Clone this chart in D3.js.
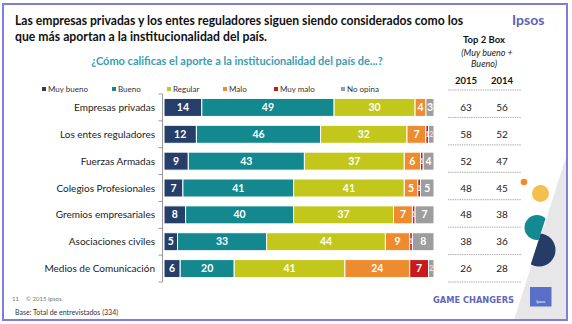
<!DOCTYPE html>
<html>
<head>
<meta charset="utf-8">
<script src="https://cdn.jsdelivr.net/npm/d3@7"></script>
<style>
  body { margin: 0; background: #fff; }
  svg { display: block; font-family: Lato, "Open Sans", sans-serif; }
</style>
</head>
<body>
<div id="chart"></div>
<script>
// Data
const categories = ["Empresas privadas", "Los entes reguladores", "Fuerzas Armadas",
  "Colegios Profesionales", "Gremios empresariales", "Asociaciones civiles", "Medios de Comunicación"];
const seriesNames = ["Muy bueno", "Bueno", "Regular", "Malo", "Muy malo", "No opina"];
const muyBueno = [14, 12, 9, 7, 8, 5, 6];
const bueno    = [49, 46, 43, 41, 40, 33, 20];
const regular  = [30, 32, 37, 41, 37, 44, 41];
const malo     = [4, 7, 6, 5, 7, 9, 24];
const muyMalo  = [0, 1, 1, 1, 1, 1, 7];
const noOpina  = [3, 2, 4, 5, 7, 8, 2];
const top2015 = [63, 58, 52, 48, 48, 38, 26];
const top2014 = [56, 52, 47, 45, 38, 36, 28];
const yearLabels = ["2015", "2014"];

const colors = ["#253f6a", "#13888f", "#c3c71c", "#ee8b2f", "#c8191b", "#9d9d9d"];

const W = 572, H = 324;
const svg = d3.select("#chart").append("svg").attr("width", W).attr("height", H);

// build rows for the stack
const seriesArrays = [muyBueno, bueno, regular, malo, muyMalo, noOpina];
const rows = categories.map((c, i) => {
  const r = { cat: c };
  seriesNames.forEach((s, j) => r[s] = seriesArrays[j][i]);
  return r;
});
const stacked = d3.stack().keys(seriesNames)(rows);

// decorations (background)
svg.append("path")
  .attr("d", "M568,151 L568,320 L514,320 Z")
  .attr("fill", "#e7e7e9");

// frame
svg.append("rect")
  .attr("x", 3).attr("y", 4).attr("width", 564).attr("height", 316)
  .attr("fill", "none").attr("stroke", "#7f7fda").attr("stroke-width", 2);

// title (slightly squeezed to the reference width)
svg.append("text")
  .attr("x", 15).attr("y", 25)
  .attr("font-weight", "bold").attr("font-size", 13).attr("fill", "#111")
  .attr("textLength", 448).attr("lengthAdjust", "spacingAndGlyphs")
  .text("Las empresas privadas y los entes reguladores siguen siendo considerados como los");
svg.append("text")
  .attr("x", 15).attr("y", 41)
  .attr("font-weight", "bold").attr("font-size", 13).attr("fill", "#111")
  .attr("textLength", 252).attr("lengthAdjust", "spacingAndGlyphs")
  .text("que más aportan a la institucionalidad del país.");

svg.append("text")
  .attr("x", 512).attr("y", 25)
  .attr("font-size", 14).attr("font-weight", "bold").attr("fill", "#5f62b8")
  .text("Ipsos");

// subtitle
svg.append("text")
  .attr("x", 237).attr("y", 65).attr("text-anchor", "middle")
  .attr("font-size", 11).attr("font-weight", "bold").attr("fill", "#3a9db3")
  .text("¿Cómo calificas el aporte a la institucionalidad del país de...?");

// legend
const legendX = [42, 112, 167, 223, 274, 341];
const legend = svg.append("g");
seriesNames.forEach((s, i) => {
  legend.append("rect")
    .attr("x", legendX[i]).attr("y", 87).attr("width", 4).attr("height", 4)
    .attr("fill", colors[i]);
  legend.append("text")
    .attr("x", legendX[i] + 6).attr("y", 92)
    .attr("font-size", 8).attr("fill", "#333")
    .text(s);
});

// scales
const x = d3.scaleLinear().domain([0, 100]).range([164, 434]);
const y = d3.scaleBand().domain(categories).range([94, 282])
  .paddingInner(0.33).paddingOuter(0.165);

// axis line with ticks at band edges
const axisX = 162.5;
svg.append("line")
  .attr("x1", axisX).attr("x2", axisX).attr("y1", 94).attr("y2", 282)
  .attr("stroke", "#999").attr("stroke-width", 1);
const edges = categories.map(c => y(c) - y.step() * y.paddingInner() / 2)
  .concat([282]);
svg.append("g").selectAll("line").data(edges).join("line")
  .attr("x1", axisX - 4).attr("x2", axisX)
  .attr("y1", d => d).attr("y2", d => d)
  .attr("stroke", "#999");

// category labels
svg.append("g").selectAll("text").data(categories).join("text")
  .attr("x", 155).attr("y", d => y(d) + y.bandwidth() / 2 + 3.5)
  .attr("text-anchor", "end").attr("font-size", 10).attr("fill", "#222")
  .text(d => d);

// bars
const layers = svg.append("g").selectAll("g").data(stacked).join("g")
  .attr("fill", (d, i) => colors[i]);
layers.selectAll("rect").data(d => d).join("rect")
  .attr("x", d => x(d[0]))
  .attr("y", d => y(d.data.cat))
  .attr("width", d => Math.max(0, x(d[1]) - x(d[0])))
  .attr("height", y.bandwidth())
  .attr("stroke", "#fff").attr("stroke-width", 1);

// value labels
layers.selectAll("text").data(d => d.filter(p => p[1] - p[0] >= 1)).join("text")
  .attr("x", d => (x(d[0]) + x(d[1])) / 2)
  .attr("y", d => y(d.data.cat) + y.bandwidth() / 2 + (d[1] - d[0] <= 2 ? 2.5 : 3.6))
  .attr("text-anchor", "middle")
  .attr("font-size", d => d[1] - d[0] <= 2 ? 7 : 10.5)
  .attr("font-weight", "bold")
  .attr("fill", d => d[1] - d[0] <= 2 ? "#f4dede" : "#fff")
  .text(d => d[1] - d[0]);

// Top 2 box table
const colX = [466, 502];
svg.append("text").attr("x", 484).attr("y", 43).attr("text-anchor", "middle")
  .attr("font-size", 9.5).attr("font-weight", "bold").attr("fill", "#111").text("Top 2 Box");
svg.append("text").attr("x", 487).attr("y", 56).attr("text-anchor", "middle")
  .attr("font-size", 9).attr("font-style", "italic").attr("fill", "#222").text("(Muy bueno +");
svg.append("text").attr("x", 484).attr("y", 67).attr("text-anchor", "middle")
  .attr("font-size", 9).attr("font-style", "italic").attr("fill", "#222").text("Bueno)");
yearLabels.forEach((yl, i) => {
  svg.append("text").attr("x", colX[i]).attr("y", 84).attr("text-anchor", "middle")
    .attr("font-size", 9.5).attr("font-weight", "bold").attr("fill", "#111").text(yl);
});

const ty = d3.scaleBand().domain(categories).range([90, 282]);
svg.append("g").selectAll("line").data([90].concat(categories.map(c => ty(c) + ty.bandwidth())))
  .join("line")
  .attr("x1", 448).attr("x2", 521).attr("y1", d => d).attr("y2", d => d)
  .attr("stroke", "#999").attr("stroke-width", 0.8).attr("stroke-dasharray", "1.5,0.8");

[top2015, top2014].forEach((vals, i) => {
  svg.append("g").selectAll("text").data(vals).join("text")
    .attr("x", colX[i])
    .attr("y", (d, k) => y(categories[k]) + y.bandwidth() / 2 + 3.5)
    .attr("text-anchor", "middle").attr("font-size", 10).attr("fill", "#222")
    .text(d => d);
});

// decorative shapes
svg.append("circle").attr("cx", 524).attr("cy", 182).attr("r", 3.3).attr("fill", "#ee8b2f");
svg.append("circle").attr("cx", 540.5).attr("cy", 193.5).attr("r", 8.5).attr("fill", "#f3c04f");
const defs = svg.append("defs");
defs.append("clipPath").attr("id", "leftCut").append("path")
  .attr("d", "M551.5,200 L527,276 L500,276 L500,200 Z");
defs.append("clipPath").attr("id", "rightCut").append("path")
  .attr("d", "M551.5,200 L527,276 L570,276 L570,200 Z");
svg.append("circle").attr("cx", 537).attr("cy", 227.5).attr("r", 12.5)
  .attr("fill", "#138a91").attr("clip-path", "url(#leftCut)");
svg.append("circle").attr("cx", 539).attr("cy", 250).attr("r", 16.5)
  .attr("fill", "#243c66").attr("clip-path", "url(#rightCut)");

svg.append("text").attr("x", 433).attr("y", 303)
  .attr("font-size", 8.5).attr("font-weight", "bold").attr("fill", "#6068b8")
  .attr("font-family", "DejaVu Sans").attr("textLength", 81).attr("lengthAdjust", "spacingAndGlyphs")
  .text("GAME CHANGERS");
svg.append("rect").attr("x", 530).attr("y", 287).attr("width", 21.5).attr("height", 19.5)
  .attr("fill", "#5a6fc6");
svg.append("text").attr("x", 540.7).attr("y", 303).attr("text-anchor", "middle")
  .attr("font-size", 4).attr("fill", "#fff").text("Ipsos");

// footer
svg.append("text").attr("x", 12).attr("y", 301).attr("font-size", 6).attr("fill", "#777").text("11");
svg.append("text").attr("x", 26).attr("y", 301).attr("font-size", 6).attr("fill", "#777").text("© 2015 Ipsos.");
svg.append("text").attr("x", 15).attr("y", 315).attr("font-size", 7).attr("fill", "#333")
  .text("Base: Total de entrevistados (334)");
</script>
</body>
</html>
